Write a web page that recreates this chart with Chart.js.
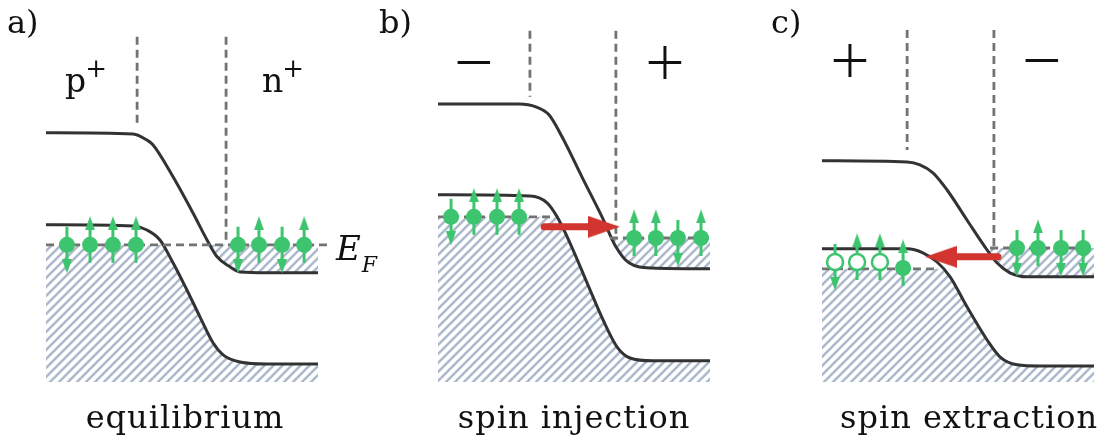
<!DOCTYPE html>
<html>
<head>
<meta charset="utf-8">
<script src="https://cdn.jsdelivr.net/npm/chart.js@4.4.1/dist/chart.umd.min.js"></script>
<style>
  body { margin: 0; background: #fff; }
  #wrap { position: relative; width: 1106px; height: 444px; overflow: hidden; }
  canvas { position: absolute; top: 0; }
  .t { position: absolute; font-family: "DejaVu Serif", serif; line-height: 1; white-space: nowrap; color: #111; }
  .sup { font-size: 26px; position: relative; top: -15px; margin-left: -1px; }
  .sub { font-size: 22px; position: relative; top: 12px; margin-left: 1px; }
  .sign { font-family: "Open Sans", sans-serif; font-weight: 340; font-size: 70px; transform: translate(-50%, -50%); }
  .cap { font-size: 32px; letter-spacing: 1px; top: 401px; transform: translateX(-50%); }
</style>
</head>
<body>
<div id="wrap">
  <canvas id="pa" width="368" height="444" style="left:0px"></canvas>
  <canvas id="pb" width="368" height="444" style="left:369px"></canvas>
  <canvas id="pc" width="368" height="444" style="left:738px"></canvas>

  <div class="t" style="left:7px;top:6px;font-size:32px">a)</div>
  <div class="t" style="left:379px;top:6px;font-size:32px">b)</div>
  <div class="t" style="left:771px;top:6px;font-size:32px">c)</div>

  <div class="t" style="left:65px;top:64px;font-size:33px">p<span class="sup">+</span></div>
  <div class="t" style="left:262px;top:64px;font-size:33px">n<span class="sup">+</span></div>
  <div class="t sign" style="left:474px;top:60px">−</div>
  <div class="t sign" style="left:665px;top:60px">+</div>
  <div class="t sign" style="left:850px;top:58px">+</div>
  <div class="t sign" style="left:1042px;top:58px">−</div>

  <div class="t" style="left:336px;top:231px;font-size:34px;font-style:italic">E<span class="sub">F</span></div>

  <div class="t cap" style="left:185px">equilibrium</div>
  <div class="t cap" style="left:574px">spin injection</div>
  <div class="t cap" style="left:969px">spin extraction</div>
</div>

<script>
// ---- a) equilibrium ----
const aCondX = [0, 3.20, 3.71, 3.93, 4.67, 5.40, 5.92, 6.29, 6.76, 7.13, 8.13, 10];
const aCondE = [6.23, 6.20, 6.05, 5.93, 5.13, 4.23, 3.55, 3.13, 2.88, 2.75, 2.73, 2.73];
const aValX = [0, 3.20, 3.71, 4.19, 4.67, 5.18, 5.66, 6.14, 6.51, 7.13, 8.13, 10];
const aValE = [3.93, 3.90, 3.80, 3.55, 2.98, 2.30, 1.63, 0.98, 0.68, 0.50, 0.45, 0.45];
const aFermi = [3.43, 3.43];            // left, right
const aFermiLeftX = [0, 10.44];
const aFermiRightX = [];
const aDivX = [3.35, 6.62];
const aDivTop = [8.63, 8.63];
const aDivBottom = [6.38, 3.43];
const aSpinX = [0.77, 1.62, 2.46, 3.31, 7.06, 7.83, 8.68, 9.49];
const aSpinE = [3.43, 3.43, 3.43, 3.43, 3.43, 3.43, 3.43, 3.43];
const aSpinDir = [-1, 1, 1, 1, -1, 1, -1, 1];
const aSpinFilled = [1, 1, 1, 1, 1, 1, 1, 1];
const aCurrentX = [];
const aCurrentE = 0;

// ---- b) spin injection ----
const bCondX = [0, 2.98, 3.60, 4.08, 4.56, 5.29, 6.03, 6.54, 7.02, 7.87, 10];
const bCondE = [6.95, 6.95, 6.88, 6.68, 6.13, 5.13, 4.13, 3.38, 2.98, 2.85, 2.83];
const bValX = [0, 3.38, 4.01, 4.38, 4.85, 5.48, 6.07, 6.58, 7.06, 7.90, 10];
const bValE = [4.68, 4.65, 4.48, 4.13, 3.48, 2.48, 1.55, 0.88, 0.60, 0.53, 0.53];
const bFermi = [4.13, 3.60];
const bFermiLeftX = [0, 4.19];
const bFermiRightX = [6.32, 10];
const bDivX = [3.38, 6.54];
const bDivTop = [8.78, 8.78];
const bDivBottom = [7.13, 3.60];
const bSpinX = [0.48, 1.32, 2.17, 2.98, 7.21, 8.01, 8.82, 9.67];
const bSpinE = [4.13, 4.13, 4.13, 4.13, 3.60, 3.60, 3.60, 3.60];
const bSpinDir = [-1, 1, 1, 1, 1, 1, -1, 1];
const bSpinFilled = [1, 1, 1, 1, 1, 1, 1, 1];
const bCurrentX = [3.90, 6.69];         // tail, tip
const bCurrentE = 3.88;

// ---- c) spin extraction ----
const cCondX = [0, 3.13, 3.60, 4.08, 4.60, 5.33, 6.07, 6.43, 6.91, 7.54, 10];
const cCondE = [5.53, 5.50, 5.43, 5.23, 4.80, 4.05, 3.30, 2.98, 2.73, 2.63, 2.63];
const cValX = [0, 3.13, 3.71, 4.23, 4.71, 5.33, 6.07, 6.54, 7.17, 8.01, 10];
const cValE = [3.33, 3.33, 3.23, 3.00, 2.63, 1.88, 1.05, 0.63, 0.43, 0.40, 0.40];
const cFermi = [2.83, 3.35];
const cFermiLeftX = [0, 4.26];
const cFermiRightX = [6.18, 10];
const cDivX = [3.13, 6.32];
const cDivTop = [8.80, 8.80];
const cDivBottom = [5.80, 3.35];
const cSpinX = [0.48, 1.29, 2.13, 2.98, 7.17, 7.94, 8.79, 9.60];
const cSpinE = [3.00, 3.00, 3.00, 2.85, 3.35, 3.35, 3.35, 3.35];
const cSpinDir = [-1, 1, 1, 1, -1, 1, -1, -1];
const cSpinFilled = [0, 0, 0, 1, 1, 1, 1, 1];
const cCurrentX = [6.47, 3.79];
const cCurrentE = 3.13;

// styles
const BAND = '#333333';
const DASH = '#737373';
const GREEN = '#3dc46e';
const RED = '#d2342f';
const HATCH = '#adb9cd';
const ARROW_TAIL = 0.45;   // energy units from dot centre
const ARROW_HEAD = 0.54;
const CURRENT_HEAD = 0.59; // x units from tip to head centre

function pts(xs, ys) {
  return xs.map((x, i) => ({ x: x, y: Array.isArray(ys) ? ys[i] : ys }));
}

function headImage(w, h, color) {
  const c = document.createElement('canvas');
  c.width = w; c.height = h;
  const g = c.getContext('2d');
  g.fillStyle = color;
  g.beginPath();
  g.moveTo(w / 2, 0);
  g.lineTo(w, h);
  g.lineTo(0, h);
  g.closePath();
  g.fill();
  return c;
}
const greenHead = headImage(10, 14, GREEN);
const redHead = headImage(22, 32, RED);

function hatchPattern(ctx) {
  const s = 9;
  const c = document.createElement('canvas');
  c.width = s; c.height = s;
  const g = c.getContext('2d');
  g.strokeStyle = HATCH;
  g.lineWidth = 2.6;
  g.beginPath();
  g.moveTo(-1, s + 1); g.lineTo(s + 1, -1);
  g.moveTo(-1, 1); g.lineTo(1, -1);
  g.moveTo(s - 1, s + 1); g.lineTo(s + 1, s - 1);
  g.stroke();
  return ctx.createPattern(c, 'repeat');
}

function drawPanel(id, xMin, xMax, p) {
  const canvas = document.getElementById(id);
  const ctx = canvas.getContext('2d');
  const pattern = hatchPattern(ctx);
  const sets = [];

  // spins: dots on top, arrows underneath
  sets.push({
    data: pts(p.spinX, p.spinE),
    showLine: false,
    pointRadius: 8,
    pointBackgroundColor: p.spinFilled.map(f => f ? GREEN : '#ffffff'),
    pointBorderColor: GREEN,
    pointBorderWidth: p.spinFilled.map(f => f ? 0 : 2.5)
  });
  p.spinX.forEach((x, i) => {
    const d = p.spinDir[i];
    sets.push({
      data: [{ x: x, y: p.spinE[i] - d * ARROW_TAIL }, { x: x, y: p.spinE[i] + d * ARROW_HEAD }],
      showLine: true,
      borderColor: GREEN,
      borderWidth: 3,
      pointRadius: [0, 5],
      pointStyle: greenHead,
      pointRotation: d > 0 ? 0 : 180
    });
  });

  // current arrow
  if (p.currentX.length) {
    const dir = p.currentX[1] > p.currentX[0] ? 1 : -1;
    sets.push({
      data: [{ x: p.currentX[0], y: p.currentE }, { x: p.currentX[1] - dir * CURRENT_HEAD, y: p.currentE }],
      showLine: true,
      borderColor: RED,
      borderWidth: 7,
      borderCapStyle: 'round',
      pointRadius: [0, 5],
      pointStyle: redHead,
      pointRotation: dir > 0 ? 90 : -90
    });
  }

  // depletion edges
  p.divX.forEach((x, i) => {
    sets.push({
      data: [{ x: x, y: p.divTop[i] }, { x: x, y: p.divBottom[i] }],
      showLine: true, borderColor: DASH, borderWidth: 2.8, borderDash: [8, 5], pointRadius: 0
    });
  });

  // Fermi levels
  if (p.fermiLeftX.length) {
    sets.push({ data: pts(p.fermiLeftX, p.fermi[0]), showLine: true, borderColor: DASH, borderWidth: 2.8, borderDash: [8, 5], pointRadius: 0 });
  }
  if (p.fermiRightX.length) {
    sets.push({ data: pts(p.fermiRightX, p.fermi[1]), showLine: true, borderColor: DASH, borderWidth: 2.8, borderDash: [8, 5], pointRadius: 0 });
  }

  // bands + hatched occupied states
  const condIdx = sets.length;
  sets.push({ data: pts(p.condX, p.condE), showLine: true, borderColor: BAND, borderWidth: 3, pointRadius: 0, cubicInterpolationMode: 'monotone' });
  const valIdx = condIdx + 3;
  // white between Fermi level and valence band where the band is above it
  sets.push({ data: pts([0, 10], p.fermi[0]), showLine: true, borderColor: 'transparent', borderWidth: 0, pointRadius: 0,
    backgroundColor: 'transparent', fill: { target: valIdx, below: '#ffffff' } });
  // filled electrons in the n-side conduction band
  sets.push({ data: pts([0, 10], p.fermi[1]), showLine: true, borderColor: 'transparent', borderWidth: 0, pointRadius: 0,
    backgroundColor: 'transparent', fill: { target: condIdx, above: pattern } });
  sets.push({ data: pts(p.valX, p.valE), showLine: true, borderColor: BAND, borderWidth: 3, pointRadius: 0, cubicInterpolationMode: 'monotone',
    backgroundColor: 'transparent', fill: { target: 'origin', above: pattern } });

  new Chart(ctx, {
    type: 'scatter',
    data: { datasets: sets },
    options: {
      responsive: false,
      animation: false,
      events: [],
      devicePixelRatio: 1,
      layout: { padding: 0, autoPadding: false },
      plugins: {
        legend: { display: false },
        tooltip: { enabled: false },
        filler: { drawTime: 'beforeDatasetsDraw' }
      },
      scales: {
        x: { type: 'linear', min: xMin, max: xMax, display: false },
        y: { type: 'linear', min: -1.55, max: 9.55, display: false }
      }
    }
  });
}

drawPanel('pa', -1.691, 11.838, {
  condX: aCondX, condE: aCondE, valX: aValX, valE: aValE,
  fermi: aFermi, fermiLeftX: aFermiLeftX, fermiRightX: aFermiRightX,
  divX: aDivX, divTop: aDivTop, divBottom: aDivBottom,
  spinX: aSpinX, spinE: aSpinE, spinDir: aSpinDir, spinFilled: aSpinFilled,
  currentX: aCurrentX, currentE: aCurrentE
});
drawPanel('pb', -2.537, 10.993, {
  condX: bCondX, condE: bCondE, valX: bValX, valE: bValE,
  fermi: bFermi, fermiLeftX: bFermiLeftX, fermiRightX: bFermiRightX,
  divX: bDivX, divTop: bDivTop, divBottom: bDivBottom,
  spinX: bSpinX, spinE: bSpinE, spinDir: bSpinDir, spinFilled: bSpinFilled,
  currentX: bCurrentX, currentE: bCurrentE
});
drawPanel('pc', -3.088, 10.441, {
  condX: cCondX, condE: cCondE, valX: cValX, valE: cValE,
  fermi: cFermi, fermiLeftX: cFermiLeftX, fermiRightX: cFermiRightX,
  divX: cDivX, divTop: cDivTop, divBottom: cDivBottom,
  spinX: cSpinX, spinE: cSpinE, spinDir: cSpinDir, spinFilled: cSpinFilled,
  currentX: cCurrentX, currentE: cCurrentE
});
</script>
</body>
</html>
